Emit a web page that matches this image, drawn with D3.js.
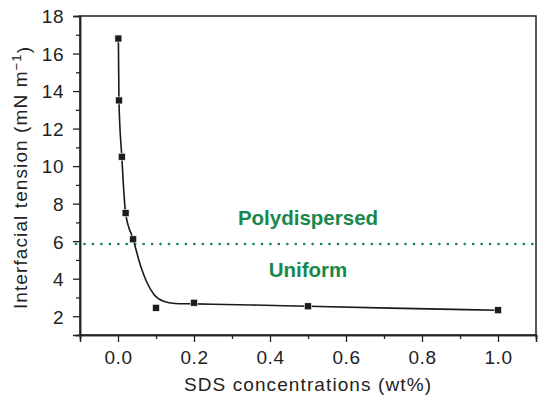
<!DOCTYPE html>
<html>
<head>
<meta charset="utf-8">
<script src="https://cdn.jsdelivr.net/npm/d3@7"></script>
<style>
  body { margin: 0; background: #fff; }
  svg text { font-family: "Liberation Sans", Arial, Helvetica, sans-serif; fill: #222; }
</style>
</head>
<body>
<svg id="chart" width="539" height="397"></svg>
<script>
// measured points
var sdsConc = [0.001, 0.0025, 0.01, 0.02, 0.04, 0.1, 0.2, 0.5, 1.0];
var tension = [16.8, 13.5, 10.5, 7.5, 6.1, 2.45, 2.72, 2.53, 2.32];

// fitted curve
var fitConc = [0.001, 0.0025, 0.01, 0.02, 0.04, 0.06, 0.075, 0.095, 0.12, 0.15, 0.2, 0.35, 0.5, 0.75, 1.0];
var fitTension = [16.8, 13.5, 10.5, 7.5, 6.1, 4.65, 3.85, 3.15, 2.8, 2.68, 2.66, 2.6, 2.53, 2.42, 2.32];

var xTicks = [0, 0.2, 0.4, 0.6, 0.8, 1.0];
var xMinor = [-0.1, 0.1, 0.3, 0.5, 0.7, 0.9, 1.1];
var yTicks = [2, 4, 6, 8, 10, 12, 14, 16, 18];
var yMinor = [1, 3, 5, 7, 9, 11, 13, 15, 17];

var threshold = 5.85;
var green = "#17884a";

var margin = {top: 16, right: 3, bottom: 62, left: 80};
var width = 539 - margin.left - margin.right,
    height = 397 - margin.top - margin.bottom;

var svg = d3.select("#chart");
var g = svg.append("g").attr("transform", "translate(" + margin.left + "," + margin.top + ")");

var x = d3.scaleLinear().domain([-0.1, 1.1]).range([0, width]);
var y = d3.scaleLinear().domain([1, 18]).range([height, 0]);

// frame
g.append("rect")
    .attr("width", width).attr("height", height)
    .attr("fill", "none").attr("stroke", "#222").attr("stroke-width", 1.5);

// x axis
var xAxis = g.append("g").attr("transform", "translate(0," + height + ")");
xAxis.call(d3.axisBottom(x).tickValues(xTicks).tickSize(7).tickPadding(9)
    .tickFormat(d3.format(".1f")));
xAxis.append("g").call(d3.axisBottom(x).tickValues(xMinor).tickSize(4).tickFormat(""));

// y axis
var yAxis = g.append("g");
yAxis.call(d3.axisLeft(y).tickValues(yTicks).tickSize(7).tickPadding(9));
yAxis.append("g").call(d3.axisLeft(y).tickValues(yMinor).tickSize(4).tickFormat(""));

g.selectAll(".domain").attr("stroke", "#222").attr("stroke-width", 1.5);
g.selectAll(".tick line").attr("stroke", "#222").attr("stroke-width", 1.3);
g.selectAll(".tick text")
    .style("font-size", "19px")
    .style("letter-spacing", "0.5px")
    .style("font-family", "'Liberation Sans', Arial, sans-serif")
    .attr("fill", "#222");
yAxis.selectAll(".tick text").attr("dy", "0.36em");

// threshold dotted line
g.append("line")
    .attr("x1", -4).attr("x2", width)
    .attr("y1", y(threshold)).attr("y2", y(threshold))
    .attr("stroke", green).attr("stroke-width", 2.6)
    .attr("stroke-linecap", "round")
    .attr("stroke-dasharray", "0.1 8.35");

g.append("text")
    .attr("x", x(0.5)).attr("y", y(threshold) - 19)
    .attr("text-anchor", "middle")
    .style("font-size", "20.5px").style("font-weight", "bold")
    .style("fill", green)
    .text("Polydispersed");

g.append("text")
    .attr("x", x(0.5)).attr("y", y(threshold) + 33)
    .attr("text-anchor", "middle")
    .style("font-size", "20.5px").style("font-weight", "bold")
    .style("fill", green)
    .text("Uniform");

// fitted curve
var fit = fitConc.map(function (c, i) { return [c, fitTension[i]]; });
var line = d3.line()
    .x(function (d) { return x(d[0]); })
    .y(function (d) { return y(d[1]); })
    .curve(d3.curveMonotoneX);

g.append("path")
    .datum(fit)
    .attr("d", line)
    .attr("fill", "none")
    .attr("stroke", "#1a1a1a")
    .attr("stroke-width", 1.6);

// markers
var pts = sdsConc.map(function (c, i) { return [c, tension[i]]; });
g.selectAll("rect.pt")
    .data(pts)
    .enter().append("rect")
    .attr("class", "pt")
    .attr("x", function (d) { return x(d[0]) - 3.5; })
    .attr("y", function (d) { return y(d[1]) - 3.5; })
    .attr("width", 7).attr("height", 7)
    .attr("fill", "#1c1c1c")
    .attr("stroke", "#fff").attr("stroke-width", 0.6);

// axis titles
svg.append("text")
    .attr("x", margin.left + width / 2)
    .attr("y", 391)
    .attr("text-anchor", "middle")
    .style("font-size", "19px").style("letter-spacing", "1.1px")
    .text("SDS concentrations (wt%)");

var yt = svg.append("text")
    .attr("transform", "translate(27," + (margin.top + height / 2 + 2) + ") rotate(-90)")
    .attr("text-anchor", "middle")
    .style("font-size", "19px").style("letter-spacing", "1.1px");
yt.append("tspan").text("Interfacial tension (mN m");
yt.append("tspan").attr("dy", "-0.45em").style("font-size", "13px").text("\u22121");
yt.append("tspan").attr("dy", "0.45em").text(")");
</script>
</body>
</html>
